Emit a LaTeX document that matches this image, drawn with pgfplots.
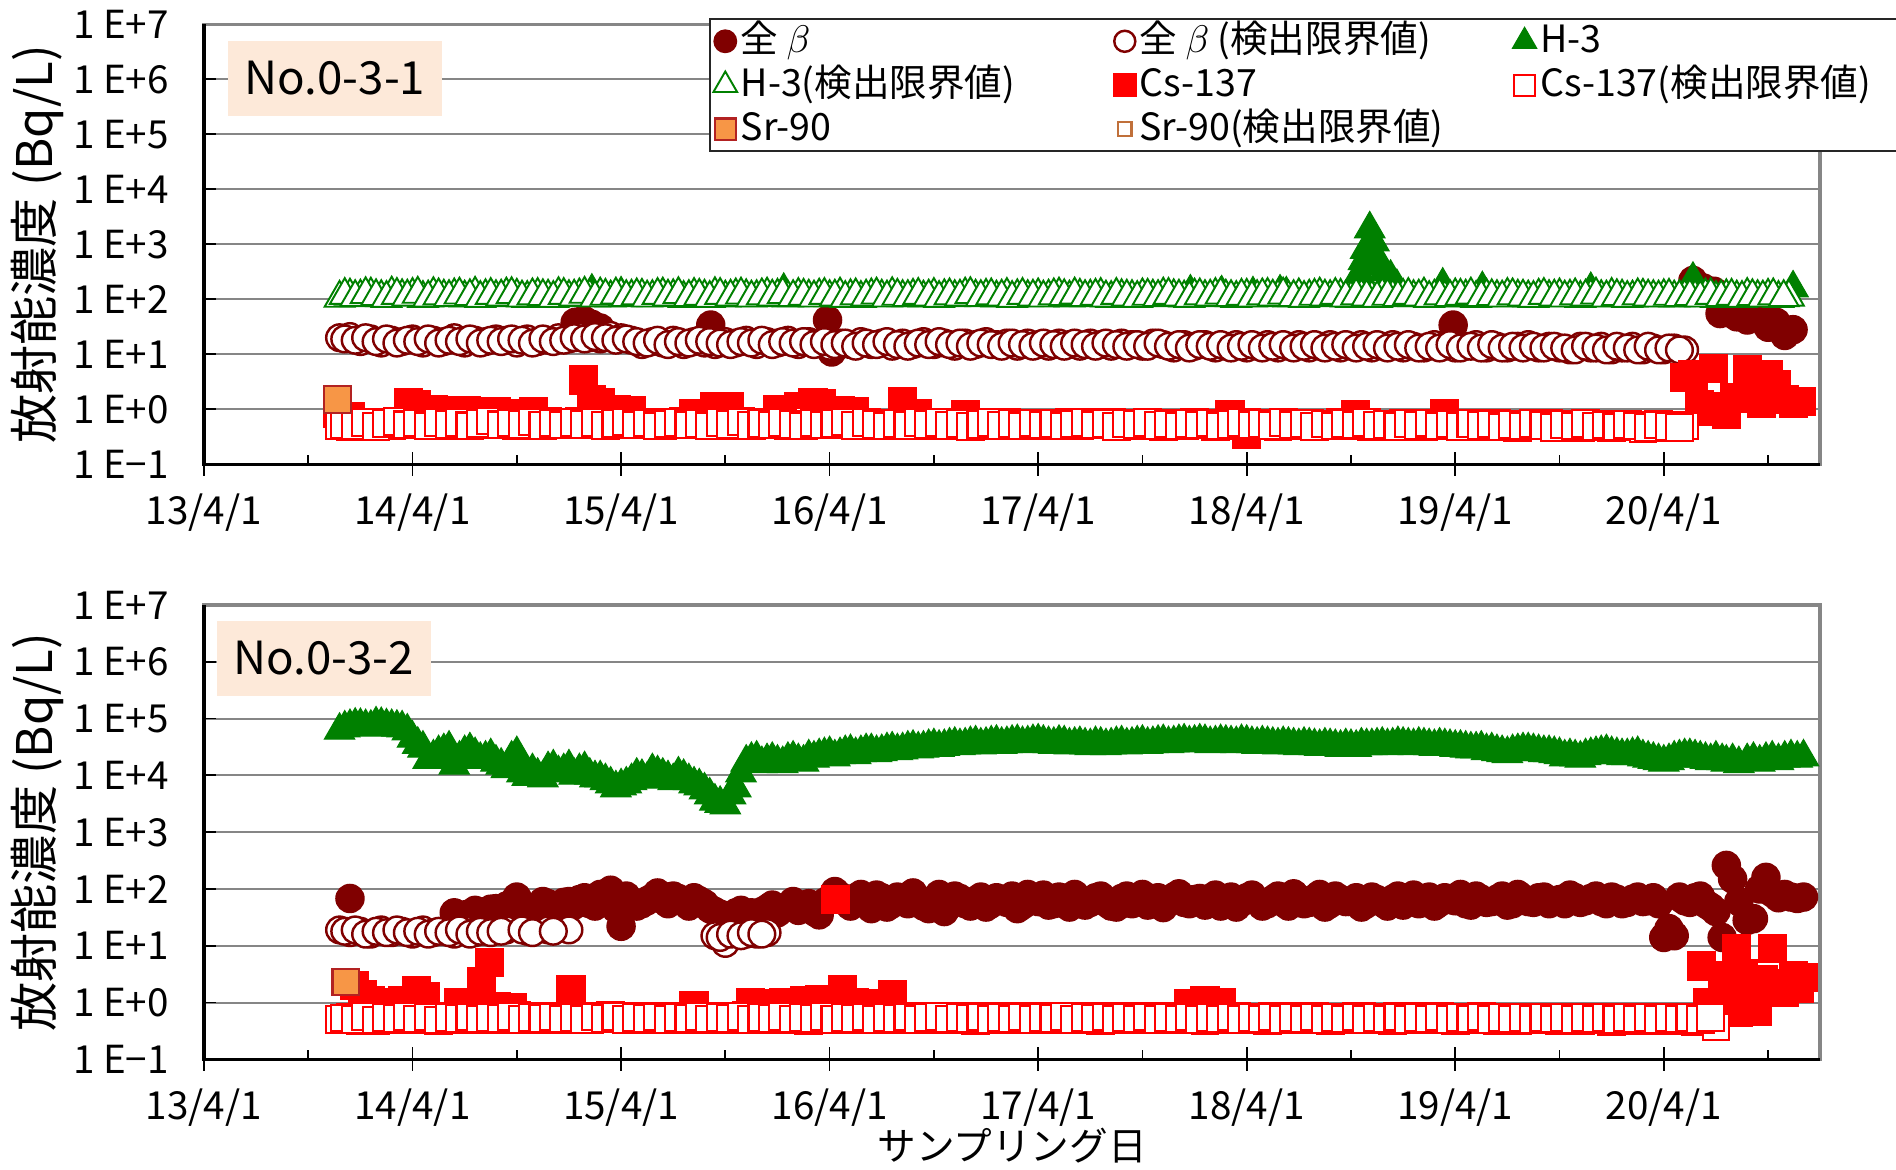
\documentclass[border=0pt]{standalone}
\usepackage{fontspec}
\setmainfont{Noto Sans CJK JP}
\usepackage{pgfplots}
\usepackage{pgfplotstable}
\pgfplotsset{compat=1.18}

\definecolor{beta}{HTML}{800000}
\definecolor{hthree}{HTML}{008000}
\definecolor{cs}{HTML}{FF0000}
\definecolor{srfill}{HTML}{F79646}
\definecolor{srdraw}{HTML}{B22222}
\definecolor{srlim}{HTML}{C0703A}
\definecolor{peach}{HTML}{FDE9D9}
\definecolor{gridc}{HTML}{868686}

\tikzset{
  bdet/.style={only marks, mark=*, mark size=4.0pt, mark options={fill=beta, draw=beta, line width=0.4pt}},
  blim/.style={only marks, mark=*, mark size=3.8pt, mark options={fill=white, draw=beta, line width=0.7pt}},
  hdet/.style={only marks, mark=triangle*, mark size=5.0pt, mark options={fill=hthree, draw=hthree, line width=0.3pt}},
  hlim/.style={only marks, mark=triangle*, mark size=4.9pt, mark options={fill=white, draw=hthree, line width=0.55pt}},
  cdet/.style={only marks, mark=square*, mark size=4.0pt, mark options={fill=cs, draw=cs, line width=0.3pt}},
  clim/.style={only marks, mark=square*, mark size=3.8pt, mark options={fill=white, draw=cs, line width=0.6pt}},
  sdet/.style={only marks, mark=square*, mark size=3.8pt, mark options={fill=srfill, draw=srdraw, line width=0.6pt}},
  slim/.style={only marks, mark=square*, mark size=1.9pt, mark options={fill=white, draw=srlim, line width=0.6pt}},
}

\pgfplotsset{
  panel/.style={
    scale only axis, width=460.3pt, clip=false,
    xmin=0, xmax=7.75, ymin=0.1, ymax=1e7,
    xtick={0,1,2,3,4,5,6,7},
    xticklabels={13/4/1,14/4/1,15/4/1,16/4/1,17/4/1,18/4/1,19/4/1,20/4/1},
    minor xtick={0.5,1.5,2.5,3.5,4.5,5.5,6.5,7.5},
    ytick={0.1,1,10,100,1000,10000,100000,1000000,10000000},
    yticklabels={1 E−1,1 E+0,1 E+1,1 E+2,1 E+3,1 E+4,1 E+5,1 E+6,1 E+7},
    yminorticks=false,
    ymajorgrids, major grid style={gridc, line width=0.55pt},
    tick pos=left, tick align=inside,
    major tick length=3.4pt, minor tick length=2.6pt,
    tick style={black, line width=0.5pt},
    axis line style={gridc, line width=1pt},
    tick label style={font=\fontsize{11}{11}\selectfont},
    xticklabel style={anchor=center, yshift=-13.7pt},
    yticklabel style={anchor=east, xshift=-6.5pt},
    every axis y label/.style={at={(axis description cs:-0.1033,0.5)}, rotate=90, anchor=center, font=\fontsize{14}{14}\selectfont},
    ylabel={放射能濃度 (Bq/L)},
  }
}

% No.0-3-1 : limits (t in years from 2013/4/1)
\pgfplotstableread{
t bl hl cl
0.65 20 105 0.50
0.70 21 115 0.48
0.75 17 110 0.55
0.80 19 120 0.52
0.85 16 108 0.58
0.90 18 125 0.50
0.95 17 112 0.55
1.00 19 118 0.60
1.05 16 104 0.53
1.10 18 122 0.57
1.15 17 110 0.50
1.20 20 116 0.62
1.25 16 106 0.55
1.30 18 124 0.52
1.35 17 112 0.58
1.40 19 108 0.54
1.45 18 120 0.60
1.50 16 114 0.50
1.55 19 104 0.56
1.60 17 118 0.53
1.65 18 110 0.59
1.70 20 122 0.55
1.75 19 108 0.52
1.80 21 116 0.60
1.85 20 112 0.55
1.90 19 120 0.58
1.95 22 106 0.52
2.00 20 118 0.56
2.05 18 110 0.60
2.10 15 114 0.53
2.15 17 108 0.57
2.20 16 120 0.50
2.25 18 112 0.55
2.30 15 104 0.59
2.35 17 118 0.52
2.40 16 110 0.56
2.45 15 122 0.60
2.50 17 106 0.54
2.55 16 116 0.50
2.60 18 112 0.57
2.65 15 108 0.53
2.70 17 120 0.58
2.75 16 114 0.55
2.80 18 106 0.50
2.85 15 118 0.56
2.90 17 110 0.60
2.95 16 115 0.53
3.00 14 108 0.57
3.05 16 120 0.52
3.10 15 112 0.58
3.15 17 104 0.55
3.20 15 116 0.50
3.25 16 110 0.56
3.30 14 122 0.53
3.35 16 108 0.59
3.40 15 114 0.52
3.45 17 106 0.56
3.50 15 118 0.50
3.55 16 112 0.55
3.60 14 108 0.58
3.65 16 120 0.52
3.70 15 110 0.56
3.75 17 114 0.50
3.80 15 106 0.54
3.85 16 118 0.58
3.90 14 112 0.52
3.95 16 108 0.55
4.00 15 116 0.50
4.05 14 110 0.56
4.10 16 120 0.52
4.15 15 106 0.57
4.20 14 114 0.50
4.25 16 110 0.55
4.30 15 118 0.52
4.35 14 104 0.58
4.40 16 112 0.54
4.45 15 108 0.50
4.50 14 116 0.56
4.55 16 110 0.52
4.60 15 120 0.48
4.65 13 112 0.55
4.70 15 106 0.51
4.75 14 115 0.57
4.80 15 108 0.53
4.85 13 118 0.49
4.90 14 110 0.55
4.95 15 104 0.52
5.00 13 114 0.58
5.05 14 108 0.50
5.10 15 118 0.54
5.15 13 110 0.48
5.20 14 106 0.55
5.25 15 116 0.51
5.30 13 110 0.56
5.35 14 120 0.50
5.40 15 108 0.53
5.45 13 114 0.57
5.50 14 104 0.51
5.55 15 112 0.55
5.60 13 106 0.49
5.65 14 118 0.54
5.70 15 110 0.50
5.75 13 114 0.56
5.80 14 108 0.52
5.85 13 120 0.48
5.90 15 110 0.55
5.95 14 106 0.51
6.00 13 116 0.56
6.05 14 110 0.50
6.10 15 104 0.53
6.15 13 114 0.49
6.20 14 108 0.55
6.25 13 118 0.51
6.30 14 110 0.47
6.35 15 106 0.53
6.40 13 114 0.50
6.45 14 108 0.55
6.50 13 116 0.49
6.55 12 110 0.52
6.60 14 104 0.47
6.65 13 112 0.54
6.70 14 108 0.50
6.75 12 118 0.46
6.80 13 110 0.52
6.85 14 106 0.49
6.90 12 114 0.45
6.95 13 108 0.51
7.00 12 112 0.48
7.05 13 106 0.46
7.10 12 110 0.50
7.15 nan 108 nan
7.20 nan 116 nan
7.25 nan 104 nan
7.30 nan 112 nan
7.35 nan 106 nan
7.40 nan 118 nan
7.45 nan 108 nan
7.50 nan 114 nan
7.55 nan 104 nan
7.60 nan 110 nan
}\toplim

% No.0-3-1 : samples in between
\pgfplotstableread{
t bl hl cl
0.675 19 118 0.53
0.725 18 108 0.50
0.775 20 122 0.57
0.825 17 112 0.49
0.875 19 104 0.55
0.925 16 118 0.60
0.975 18 110 0.52
1.025 17 124 0.56
1.075 19 106 0.50
1.125 16 116 0.58
1.175 18 108 0.53
1.225 17 120 0.57
1.275 19 112 0.50
1.325 16 104 0.55
1.375 18 118 0.61
1.425 17 110 0.52
1.475 19 122 0.56
1.525 18 106 0.53
1.575 16 116 0.59
1.625 19 112 0.51
1.675 17 104 0.56
1.725 18 118 0.52
1.775 20 110 0.58
1.825 19 124 0.53
1.875 21 106 0.57
1.925 20 114 0.51
1.975 18 120 0.55
2.025 19 108 0.59
2.075 17 116 0.52
2.125 16 106 0.56
2.175 18 118 0.50
2.225 15 110 0.54
2.275 17 122 0.58
2.325 16 108 0.52
2.375 18 114 0.55
2.425 17 104 0.50
2.475 16 118 0.57
2.525 15 110 0.53
2.575 17 120 0.59
2.625 16 106 0.51
2.675 18 116 0.55
2.725 15 110 0.52
2.775 17 122 0.57
2.825 16 108 0.53
2.875 17 114 0.50
2.925 15 106 0.56
2.975 17 118 0.52
3.025 15 110 0.55
3.075 16 104 0.59
3.125 14 116 0.51
3.175 16 110 0.57
3.225 15 120 0.53
3.275 17 106 0.50
3.325 15 114 0.55
3.375 14 108 0.51
3.425 16 118 0.57
3.475 15 110 0.53
3.525 17 104 0.57
3.575 15 116 0.51
3.625 16 110 0.55
3.675 14 122 0.49
3.725 16 108 0.53
3.775 15 116 0.57
3.825 14 110 0.51
3.875 16 104 0.55
3.925 15 118 0.50
3.975 14 110 0.56
4.025 16 106 0.52
4.075 15 116 0.55
4.125 14 112 0.50
4.175 16 120 0.54
4.225 15 108 0.58
4.275 14 114 0.52
4.325 16 106 0.55
4.375 15 118 0.49
4.425 14 110 0.55
4.475 15 104 0.53
4.525 14 114 0.57
4.575 16 108 0.51
4.625 14 118 0.54
4.675 15 110 0.50
4.725 13 104 0.55
4.775 15 116 0.52
4.825 14 110 0.56
4.875 15 120 0.50
4.925 13 108 0.53
4.975 14 114 0.57
5.025 15 106 0.52
5.075 13 116 0.55
5.125 14 110 0.51
5.175 15 120 0.57
5.225 13 108 0.52
5.275 14 104 0.55
5.325 15 114 0.49
5.375 13 110 0.54
5.425 14 118 0.50
5.475 15 106 0.55
5.525 13 116 0.52
5.575 14 110 0.57
5.625 15 104 0.51
5.675 13 114 0.53
5.725 14 108 0.49
5.775 15 118 0.55
5.825 13 110 0.51
5.875 14 104 0.56
5.925 13 116 0.50
5.975 15 108 0.54
6.025 13 114 0.49
6.075 14 120 0.55
6.125 13 108 0.51
6.175 15 112 0.54
6.225 13 106 0.48
6.275 14 116 0.53
6.325 13 110 0.50
6.375 14 104 0.55
6.425 13 118 0.51
6.475 14 110 0.47
6.525 13 106 0.53
6.575 12 116 0.50
6.625 14 110 0.55
6.675 13 120 0.49
6.725 12 106 0.52
6.775 14 112 0.48
6.825 13 104 0.53
6.875 12 116 0.50
6.925 14 110 0.47
6.975 12 106 0.52
7.025 13 114 0.49
7.075 12 108 0.47
7.125 nan 112 nan
7.175 nan 106 nan
7.225 nan 118 nan
7.275 nan 108 nan
7.325 nan 114 nan
7.375 nan 104 nan
7.425 nan 112 nan
7.475 nan 106 nan
7.525 nan 116 nan
7.575 nan 108 nan
}\toplimb

\pgfplotstableread{
t v
1.78 38
1.82 42
1.86 35
1.90 30
2.43 34
2.99 42
3.01 11
5.99 34
7.14 220
7.19 160
7.24 140
7.27 55
7.31 62
7.35 48
7.40 42
7.44 70
7.47 55
7.50 31
7.54 38
7.58 22
7.62 28
}\topbeta

\pgfplotstableread{
t v
1.86 140
2.00 125
2.78 145
4.73 135
4.88 130
5.03 125
5.16 135
5.19 125
5.54 290
5.56 500
5.57 800
5.59 1900
5.61 1100
5.62 600
5.64 400
5.66 320
5.69 250
5.72 170
5.94 180
6.13 155
6.65 150
7.14 230
7.62 160
}\toph

\pgfplotstableread{
t v
0.64 0.85
0.66 0.65
0.68 0.55
0.70 0.75
0.98 1.3
1.02 1.2
1.10 1.0
1.18 0.95
1.26 0.95
1.32 0.9
1.40 0.9
1.50 0.85
1.58 0.9
1.82 3.4
1.86 1.5
1.90 1.3
1.98 1.0
2.05 0.95
2.35 0.85
2.45 1.1
2.52 1.1
2.75 1.0
2.85 1.1
2.92 1.3
2.96 1.25
3.05 0.95
3.12 0.9
3.35 1.4
3.42 0.85
3.65 0.8
4.92 0.8
5.00 0.35
5.52 0.8
5.95 0.85
7.10 3.8
7.14 4.2
7.17 1.2
7.20 0.9
7.24 5.5
7.27 1.1
7.30 0.8
7.34 1.6
7.40 5.3
7.44 2.0
7.47 1.3
7.50 4.2
7.54 2.8
7.58 1.5
7.62 1.3
7.66 1.4
}\topcs

% No.0-3-2
\pgfplotstableread{
t hd bl bd cl
0.65 62000 19 nan 0.50
0.70 72000 17 68 0.55
0.75 75000 18 nan 0.48
0.80 70000 16 nan 0.56
0.85 78000 19 nan 0.52
0.90 72000 17 nan 0.58
0.95 68000 18 nan 0.50
1.00 45000 16 nan 0.55
1.05 30000 19 nan 0.60
1.10 21000 17 nan 0.52
1.15 27000 18 nan 0.56
1.20 15000 16 38 0.50
1.25 25000 19 35 0.58
1.30 23000 17 42 0.53
1.35 20000 18 40 0.57
1.40 17000 nan 45 0.50
1.45 13000 19 50 0.55
1.50 24000 nan 72 0.60
1.55 9500 18 48 0.52
1.60 10000 nan 42 0.56
1.65 13000 19 55 0.50
1.70 11000 nan 50 0.58
1.75 14000 19 60 0.53
1.80 12000 nan 65 0.57
1.85 10000 nan 55 0.51
1.90 9000 nan 80 0.55
1.95 7000 nan 95 0.60
2.00 6500 nan 22 0.52
2.05 8000 nan 60 0.56
2.10 9500 nan 55 0.50
2.15 12000 nan 70 0.58
2.20 10000 nan 65 0.53
2.25 8000 nan 75 0.57
2.30 9500 nan 60 0.50
2.35 7000 nan 70 0.55
2.40 5500 nan 55 0.52
2.45 3500 15 40 0.58
2.50 3000 11 32 0.50
2.55 6000 nan 38 0.55
2.60 17000 16 35 0.60
2.65 20000 16 nan 0.52
2.70 18000 17 45 0.56
2.75 17000 nan 38 0.50
2.80 19000 nan 50 0.57
2.85 18000 nan 42 0.53
2.90 21000 nan 55 0.49
2.95 22000 nan 35 0.56
3.00 24000 nan 65 0.52
3.05 23000 nan 75 0.58
3.10 26000 nan 50 0.50
3.15 25000 nan 80 0.55
3.20 27000 nan 45 0.52
3.25 26000 nan 70 0.57
3.30 29000 nan 55 0.50
3.35 28000 nan 60 0.54
3.40 31000 nan 85 0.58
3.45 30000 nan 50 0.52
3.50 33000 nan 65 0.55
3.55 32000 nan 40 0.50
3.60 35000 nan 75 0.57
3.65 34000 nan 55 0.53
3.70 37000 nan 62 0.49
3.75 35000 nan 48 0.55
3.80 38000 nan 70 0.52
3.85 36000 nan 58 0.57
3.90 39000 nan 45 0.50
3.95 37000 nan 80 0.54
4.00 40000 nan 60 0.51
4.05 36000 nan 52 0.56
4.10 38000 nan 72 0.50
4.15 34000 nan 48 0.55
4.20 36000 nan 65 0.52
4.25 33000 nan 58 0.57
4.30 35000 nan 75 0.49
4.35 34000 nan 50 0.54
4.40 37000 nan 68 0.51
4.45 35000 nan 55 0.56
4.50 38000 nan 80 0.50
4.55 36000 nan 60 0.53
4.60 39000 nan 47 0.57
4.65 37000 nan 72 0.50
4.70 40000 nan 58 0.55
4.75 38000 nan 65 0.52
4.80 39000 nan 52 0.48
4.85 37000 nan 78 0.55
4.90 38000 nan 60 0.51
4.95 36000 nan 48 0.56
5.00 38000 nan 70 0.50
5.05 35000 nan 62 0.54
5.10 36000 nan 55 0.49
5.15 34000 nan 75 0.55
5.20 35000 nan 50 0.52
5.25 33000 nan 68 0.57
5.30 34000 nan 58 0.50
5.35 32000 nan 80 0.53
5.40 33000 nan 55 0.49
5.45 31000 nan 65 0.55
5.50 32000 nan 60 0.51
5.55 34000 nan 48 0.56
5.60 33000 nan 72 0.50
5.65 35000 nan 58 0.54
5.70 34000 nan 66 0.49
5.75 35000 nan 52 0.55
5.80 33000 nan 78 0.51
5.85 34000 nan 60 0.56
5.90 32000 nan 50 0.50
5.95 33000 nan 70 0.53
6.00 31000 nan 62 0.48
6.05 30000 nan 55 0.54
6.10 29000 nan 75 0.50
6.15 27000 nan 58 0.55
6.20 26000 nan 66 0.49
6.25 24000 nan 52 0.53
6.30 27000 nan 80 0.48
6.35 28000 nan 60 0.54
6.40 26000 nan 70 0.50
6.45 25000 nan 55 0.55
6.50 23000 nan 65 0.49
6.55 22000 nan 78 0.53
6.60 20000 nan 58 0.48
6.65 23000 nan 68 0.54
6.70 25000 nan 60 0.50
6.75 24000 nan 72 0.46
6.80 22000 nan 55 0.52
6.85 23000 nan 66 0.49
6.90 21000 nan 60 0.54
6.95 19000 nan 70 0.48
7.00 17000 nan 14 0.52
7.05 20000 nan 15 0.49
7.10 22000 nan 62 0.53
7.15 21000 nan 70 0.47
7.20 19000 nan 55 0.51
7.25 20000 nan 40 0.37
7.28 18000 nan 14 nan
7.30 17000 nan 260 nan
7.33 18000 nan 150 nan
7.36 16000 nan 60 nan
7.40 18000 nan 28 nan
7.43 19000 nan 30 nan
7.46 17000 nan 100 nan
7.49 19000 nan 160 nan
7.52 20000 nan 85 nan
7.55 18000 nan 70 nan
7.58 20000 nan 80 nan
7.61 21000 nan 72 nan
7.64 20000 nan 68 nan
7.67 21000 nan 72 nan
}\bottab

% No.0-3-2 : samples in between
\pgfplotstableread{
t hd bl bd cl
0.675 68000 18 nan 0.53
0.725 76000 19 nan 0.50
0.775 72000 16 nan 0.57
0.825 80000 18 nan 0.49
0.875 74000 17 nan 0.55
0.925 70000 19 nan 0.52
0.975 60000 17 nan 0.57
1.025 35000 18 nan 0.51
1.075 19000 16 nan 0.56
1.125 25000 18 nan 0.49
1.175 30000 17 nan 0.55
1.225 20000 19 nan 0.52
1.275 28000 16 nan 0.56
1.325 19000 18 nan 0.51
1.375 22000 17 44 0.55
1.425 15000 18 38 0.52
1.475 20000 nan 55 0.57
1.525 11000 19 45 0.50
1.575 12000 17 40 0.55
1.625 9000 nan 60 0.52
1.675 14000 18 48 0.56
1.725 12000 nan 58 0.51
1.775 10000 nan 52 0.55
1.825 13000 nan 70 0.50
1.875 9000 nan 50 0.56
1.925 8000 nan 65 0.52
1.975 6000 nan 45 0.57
2.025 7000 nan 75 0.50
2.075 10000 nan 50 0.54
2.125 8500 nan 62 0.52
2.175 11000 nan 85 0.56
2.225 9000 nan 55 0.50
2.275 10500 nan 68 0.55
2.325 8000 nan 50 0.52
2.375 6500 nan 62 0.57
2.425 4500 nan 45 0.51
2.475 3200 14 36 0.55
2.525 4500 16 nan 0.52
2.575 11000 15 42 0.57
2.625 19000 17 38 0.50
2.675 16000 16 40 0.55
2.725 19000 nan 52 0.52
2.775 16000 nan 45 0.57
2.825 20000 nan 60 0.51
2.875 17000 nan 48 0.55
2.925 20000 nan 40 0.52
2.975 23000 nan 58 0.57
3.025 21000 nan 90 0.50
3.075 25000 nan 60 0.55
3.125 23000 nan 70 0.52
3.175 27000 nan 55 0.56
3.225 25000 nan 78 0.50
3.275 28000 nan 48 0.55
3.325 27000 nan 72 0.52
3.375 30000 nan 55 0.56
3.425 29000 nan 65 0.50
3.475 32000 nan 45 0.54
3.525 31000 nan 80 0.57
3.575 34000 nan 52 0.51
3.625 33000 nan 68 0.55
3.675 36000 nan 50 0.52
3.725 34000 nan 72 0.56
3.775 37000 nan 55 0.50
3.825 35000 nan 65 0.54
3.875 38000 nan 75 0.51
3.925 36000 nan 52 0.56
3.975 39000 nan 68 0.50
4.025 38000 nan 78 0.54
4.075 35000 nan 55 0.52
4.125 37000 nan 62 0.57
4.175 35000 nan 80 0.50
4.225 34000 nan 52 0.55
4.275 36000 nan 70 0.52
4.325 33000 nan 58 0.56
4.375 36000 nan 48 0.50
4.425 34000 nan 75 0.54
4.475 37000 nan 62 0.51
4.525 35000 nan 52 0.56
4.575 38000 nan 70 0.50
4.625 36000 nan 58 0.54
4.675 39000 nan 82 0.51
4.725 37000 nan 55 0.56
4.775 40000 nan 68 0.50
4.825 36000 nan 60 0.54
4.875 39000 nan 50 0.51
4.925 37000 nan 72 0.56
4.975 39000 nan 58 0.50
5.025 36000 nan 78 0.54
5.075 37000 nan 50 0.51
5.125 35000 nan 65 0.56
5.175 36000 nan 58 0.50
5.225 34000 nan 82 0.54
5.275 35000 nan 55 0.51
5.325 33000 nan 68 0.56
5.375 34000 nan 48 0.50
5.425 32000 nan 75 0.54
5.475 33000 nan 60 0.51
5.525 31000 nan 70 0.56
5.575 33000 nan 55 0.50
5.625 34000 nan 65 0.54
5.675 33000 nan 50 0.51
5.725 36000 nan 75 0.56
5.775 34000 nan 62 0.50
5.825 35000 nan 55 0.54
5.875 33000 nan 72 0.51
5.925 34000 nan 58 0.56
5.975 32000 nan 65 0.50
6.025 31000 nan 80 0.54
6.075 29000 nan 52 0.51
6.125 30000 nan 66 0.56
6.175 28000 nan 60 0.50
6.225 25000 nan 75 0.54
6.275 26000 nan 55 0.51
6.325 28000 nan 68 0.55
6.375 27000 nan 58 0.50
6.425 25000 nan 72 0.54
6.475 24000 nan 60 0.51
6.525 21000 nan 55 0.55
6.575 21000 nan 70 0.50
6.625 22000 nan 62 0.54
6.675 24000 nan 75 0.51
6.725 26000 nan 55 0.55
6.775 23000 nan 66 0.50
6.825 22000 nan 58 0.54
6.875 24000 nan 72 0.51
6.925 20000 nan 62 0.55
6.975 18000 nan 55 0.50
7.025 18000 nan 20 0.54
7.075 21000 nan 72 0.51
7.125 22000 nan 58 0.55
7.175 20000 nan 75 0.50
7.225 18000 nan 48 0.54
}\botb

\pgfplotstableread{
t v
0.72 2.0
0.76 1.4
0.80 1.1
0.84 1.0
0.95 1.1
1.02 1.6
1.06 1.3
1.22 1.0
1.30 1.0
1.33 2.3
1.37 5.0
1.40 0.85
1.48 0.8
1.76 1.7
2.35 0.9
2.62 1.0
2.70 0.95
2.78 1.0
2.88 1.1
2.95 1.15
3.03 66
3.06 1.7
3.12 1.0
3.18 0.95
3.30 1.4
4.72 0.95
4.80 1.1
4.88 1.0
7.18 4.4
7.21 1.0
7.24 0.75
7.28 3.0
7.32 1.2
7.35 9.0
7.36 0.66
7.38 3.3
7.42 2.0
7.45 0.7
7.48 2.5
7.52 9.0
7.55 2.2
7.58 1.5
7.62 3.0
7.65 1.8
7.67 2.8
}\botcs

\begin{document}
\begin{tikzpicture}
\useasboundingbox (0,0) rectangle (540pt,-333.2pt);

% upper panel
\begin{semilogyaxis}[panel,
  at={(58.1pt,-6.92pt)}, anchor=north west, height=125.3pt,
  legend columns=3,
  legend cell align=left,
  legend style={at={(axis description cs:0.3124,1.0137)}, anchor=north west,
    draw=black!85, line width=0.6pt, fill=white,
    font=\fontsize{10.7}{12}\selectfont,
    inner xsep=1pt, inner ysep=0pt, row sep=0pt, column sep=0pt,
    nodes={inner xsep=1pt, inner ysep=0.9pt, text height=8.6pt, text depth=2.1pt}},
]
\addplot[bdet, forget plot] table[x=t, y=v] {\topbeta};
\addplot[blim, forget plot] table[x=t, y=bl] {\toplim};
\addplot[blim, forget plot] table[x=t, y=bl] {\toplimb};
\addplot[hdet, forget plot] table[x=t, y=v] {\toph};
\addplot[hlim, forget plot] table[x=t, y=hl] {\toplim};
\addplot[hlim, forget plot] table[x=t, y=hl] {\toplimb};
\addplot[cdet, forget plot] table[x=t, y=v] {\topcs};
\addplot[clim, forget plot] table[x=t, y=cl] {\toplim};
\addplot[clim, forget plot] table[x=t, y=cl] {\toplimb};
\addplot[sdet, forget plot] coordinates {(0.64,1.5)};

\addlegendimage{bdet, mark size=3.2pt}
\addlegendentry{\makebox[105.2pt][l]{全 $\beta$}}
\addlegendimage{blim, mark size=3.0pt}
\addlegendentry{\makebox[105.2pt][l]{全 $\beta$ (検出限界値)}}
\addlegendimage{hdet, mark size=4.0pt}
\addlegendentry{\makebox[101.7pt][l]{H-3}}
\addlegendimage{hlim, mark size=3.9pt}
\addlegendentry{\makebox[105.2pt][l]{H-3(検出限界値)}}
\addlegendimage{cdet, mark size=3.2pt}
\addlegendentry{\makebox[105.2pt][l]{Cs-137}}
\addlegendimage{clim, mark size=3.0pt}
\addlegendentry{\makebox[101.7pt][l]{Cs-137(検出限界値)}}
\addlegendimage{sdet, mark size=3.0pt}
\addlegendentry{\makebox[105.2pt][l]{Sr-90}}
\addlegendimage{slim}
\addlegendentry{\makebox[105.2pt][l]{Sr-90(検出限界値)}}

\draw[black, line width=1pt] (rel axis cs:0,1) -- (rel axis cs:0,0) -- (rel axis cs:1,0);
\pgfplotsinvokeforeach{0,1,2,3,4,5,6,7}{\draw[black, line width=0.5pt] (axis cs:#1,0.1) -- ++(0pt,-3.3pt);}
\node[anchor=north west, xshift=6.6pt, yshift=-4.5pt, fill=peach, minimum width=61pt, minimum height=21.4pt, inner sep=0pt, font=\fontsize{13}{13}\selectfont] at (rel axis cs:0,1) {No.0-3-1};
\end{semilogyaxis}

% lower panel
\begin{semilogyaxis}[panel,
  at={(58.1pt,-172.3pt)}, anchor=north west, height=129.4pt,
  xlabel={サンプリング日},
  every axis x label/.style={at={(axis description cs:0.5,-0.1894)}, anchor=center, font=\fontsize{11}{11}\selectfont},
]
\addplot[bdet] table[x=t, y=bd] {\bottab};
\addplot[bdet] table[x=t, y=bd] {\botb};
\addplot[blim] table[x=t, y=bl] {\bottab};
\addplot[blim] table[x=t, y=bl] {\botb};
\addplot[hdet] table[x=t, y=hd] {\bottab};
\addplot[hdet] table[x=t, y=hd] {\botb};
\addplot[cdet] table[x=t, y=v] {\botcs};
\addplot[clim] table[x=t, y=cl] {\bottab};
\addplot[clim] table[x=t, y=cl] {\botb};
\addplot[sdet] coordinates {(0.68,2.3)};

\draw[black, line width=1pt] (rel axis cs:0,1) -- (rel axis cs:0,0) -- (rel axis cs:1,0);
\pgfplotsinvokeforeach{0,1,2,3,4,5,6,7}{\draw[black, line width=0.5pt] (axis cs:#1,0.1) -- ++(0pt,-3.3pt);}
\node[anchor=north west, xshift=3.4pt, yshift=-4.3pt, fill=peach, minimum width=61pt, minimum height=21.4pt, inner sep=0pt, font=\fontsize{13}{13}\selectfont] at (rel axis cs:0,1) {No.0-3-2};
\end{semilogyaxis}
\end{tikzpicture}
\end{document}
